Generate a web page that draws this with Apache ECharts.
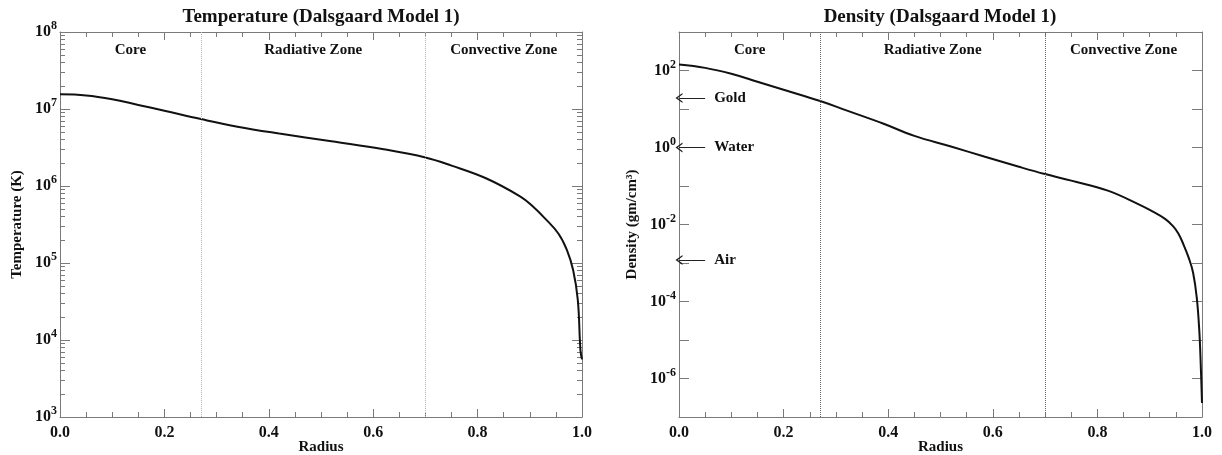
<!DOCTYPE html>
<html>
<head>
<meta charset="utf-8">
<script src="https://cdn.jsdelivr.net/npm/echarts@6/dist/echarts.min.js"></script>
<style>
  html, body { margin: 0; background: #fff; }
  #chart { width: 1222px; height: 455px; }
</style>
</head>
<body>
<div id="chart"></div>
<script>
// temperature profile (K) vs fractional radius
const radiusT = [0, 0.05, 0.1, 0.15, 0.2, 0.27, 0.34, 0.42, 0.52, 0.62, 0.7, 0.75, 0.816, 0.882, 0.905, 0.929, 0.955, 0.971, 0.983, 0.992, 0.997, 1.0];
const temperature = [1.55e7, 1.50e7, 1.34e7, 1.13e7, 9.5e6, 7.4e6, 5.9e6, 4.8e6, 3.8e6, 3.0e6, 2.35e6, 1.84e6, 1.26e6, 7.3e5, 5.5e5, 3.8e5, 2.4e5, 1.48e5, 8.1e4, 3.3e4, 7.4e3, 5.6e3];

// density profile (g/cm^3) vs fractional radius
const radiusD = [0, 0.05, 0.1, 0.15, 0.2, 0.27, 0.32, 0.39, 0.45, 0.52, 0.585, 0.65, 0.7, 0.75, 0.82, 0.88, 0.9, 0.93, 0.945, 0.955, 0.964, 0.975, 0.983, 0.99, 0.995, 0.998, 1.0];
const density = [143, 117, 82, 51, 31.6, 16.1, 9.2, 4.2, 2.0, 1.06, 0.575, 0.316, 0.204, 0.138, 0.076, 0.033, 0.024, 0.0138, 8.9e-3, 5.75e-3, 3.16e-3, 1.32e-3, 5.6e-4, 1.26e-4, 1.6e-5, 1.6e-6, 2.3e-7];

const zoneNames = ['Core', 'Radiative Zone', 'Convective Zone'];
const zoneEdges = [0, 0.27, 0.7, 1.0];

const refNames = ['Gold', 'Water', 'Air'];
const refDensity = [19.3, 1.0, 0.0012];

const FONT = '"Liberation Serif", "Times New Roman", serif';
const AXIS_COLOR = '#7a7a7a';
const TEXT = '#111';
const ARROW = 'path://M0,10 L5,0 L10,10 L8.4,10 L5,3.2 L1.6,10 Z';

const tempData = radiusT.map((r, i) => [r, Math.log10(temperature[i])]);
const densData = radiusD.map((r, i) => [r, Math.log10(density[i])]);

// 2..9 x 10^n positions for the small log ticks on the temperature axis
const logMinor = [];
for (let n = 3; n < 8; n++) {
    for (let k = 2; k <= 9; k++) logMinor.push(n + Math.log10(k));
}

const labelRich = {
    b: { fontFamily: FONT, fontWeight: 'bold', fontSize: 16, color: TEXT },
    s: { fontFamily: FONT, fontWeight: 'bold', fontSize: 12, color: TEXT, padding: [0, 0, 12, 0] }
};

function xAxes(grid) {
    const make = (pos) => ({
        gridIndex: grid, type: 'value', position: pos, min: 0, max: 1, interval: 0.2,
        axisLine: { onZero: false, lineStyle: { color: AXIS_COLOR } },
        axisTick: { inside: true, length: 8, lineStyle: { color: AXIS_COLOR } },
        minorTick: { show: true, splitNumber: 4, length: 5, lineStyle: { color: AXIS_COLOR } },
        splitLine: { show: false },
        axisLabel: pos === 'bottom'
            ? { margin: 8, formatter: v => v.toFixed(1), fontFamily: FONT, fontWeight: 'bold', fontSize: 16, color: TEXT }
            : { show: false },
        name: pos === 'bottom' ? 'Radius' : '',
        nameLocation: 'middle', nameGap: 23, nameMoveOverlap: false,
        nameTextStyle: { fontFamily: FONT, fontWeight: 'bold', fontSize: 15, color: TEXT }
    });
    return [make('bottom'), make('top')];
}

function yAxes(grid, min, max, name, nameGap, everyOther, minor) {
    const make = (pos) => ({
        gridIndex: grid, type: 'value', position: pos, min: min, max: max, interval: 1,
        axisLine: { onZero: false, lineStyle: { color: AXIS_COLOR } },
        axisTick: { inside: true, length: 10, lineStyle: { color: AXIS_COLOR } },
        splitLine: { show: false },
        axisLabel: pos === 'left' ? {
            margin: 3, rich: labelRich,
            formatter: v => (everyOther && v % 2 !== 0) ? '' : '{b|10}{s|' + v + '}'
        } : { show: false },
        name: pos === 'left' ? name : '',
        nameLocation: 'middle', nameGap: nameGap, nameMoveOverlap: false,
        nameTextStyle: { fontFamily: FONT, fontWeight: 'bold', fontSize: 15, color: TEXT }
    });
    const axes = [make('left'), make('right')];
    if (minor) {
        ['left', 'right'].forEach(pos => axes.push({
            gridIndex: grid, type: 'value', position: pos, min: min, max: max, interval: 1,
            axisLine: { show: false, onZero: false },
            axisTick: { inside: true, length: 5, customValues: minor, lineStyle: { color: AXIS_COLOR } },
            axisLabel: { show: false },
            splitLine: { show: false }
        }));
    }
    return axes;
}

function zoneMarks(lineColor, extraLines) {
    return {
        markArea: {
            silent: true,
            itemStyle: { color: 'rgba(0,0,0,0)' },
            label: { show: true, position: 'insideTop', distance: 11, fontFamily: FONT, fontWeight: 'bold', fontSize: 15, color: TEXT },
            data: zoneNames.map((n, i) => [{ name: n, xAxis: zoneEdges[i] }, { xAxis: zoneEdges[i + 1] }])
        },
        markLine: {
            silent: true, animation: false,
            symbol: ['none', 'none'],
            label: { show: false },
            lineStyle: { type: 'dotted', color: lineColor, width: 1 },
            data: zoneEdges.slice(1, -1).map(x => ({ xAxis: x })).concat(extraLines || [])
        }
    };
}

const refArrows = refNames.map((n, i) => [
    {
        name: n, coord: [0.05, Math.log10(refDensity[i])], symbol: 'none',
        lineStyle: { type: 'solid', color: '#222', width: 1 },
        label: { show: true, position: 'start', distance: 9, formatter: n, fontFamily: FONT, fontWeight: 'bold', fontSize: 15, color: TEXT }
    },
    { coord: [0, Math.log10(refDensity[i])], symbol: ARROW, symbolSize: [10, 7] }
]);

const chart = echarts.init(document.getElementById('chart'));
chart.setOption({
    animation: false,
    backgroundColor: '#fff',
    graphic: [
        { type: 'text', x: 321, y: 17, style: { text: 'Temperature (Dalsgaard Model 1)', fontFamily: FONT, fontWeight: 'bold', fontSize: 19, fill: TEXT, align: 'center', verticalAlign: 'middle' } },
        { type: 'text', x: 940, y: 17, style: { text: 'Density (Dalsgaard Model 1)', fontFamily: FONT, fontWeight: 'bold', fontSize: 19, fill: TEXT, align: 'center', verticalAlign: 'middle' } }
    ],
    grid: [
        { left: 60, top: 32, width: 522, height: 385, containLabel: false, outerBoundsMode: 'none' },
        { left: 679, top: 32, width: 523, height: 385, containLabel: false, outerBoundsMode: 'none' }
    ],
    xAxis: [...xAxes(0), ...xAxes(1)],
    yAxis: [
        ...yAxes(0, 3, 8, 'Temperature (K)', 35, false, logMinor),
        ...yAxes(1, -7, 3, 'Density (gm/cm³)', 39, true, null)
    ],
    series: [
        Object.assign({
            name: 'Temperature', type: 'line', xAxisIndex: 0, yAxisIndex: 0,
            data: tempData, showSymbol: false, smooth: 0.4,
            lineStyle: { color: '#111', width: 2 }
        }, zoneMarks('#b5b5b5')),
        Object.assign({
            name: 'Density', type: 'line', xAxisIndex: 2, yAxisIndex: 4,
            data: densData, showSymbol: false, smooth: 0.4,
            lineStyle: { color: '#111', width: 2 }
        }, zoneMarks('#666', refArrows))
    ]
});
</script>
</body>
</html>
